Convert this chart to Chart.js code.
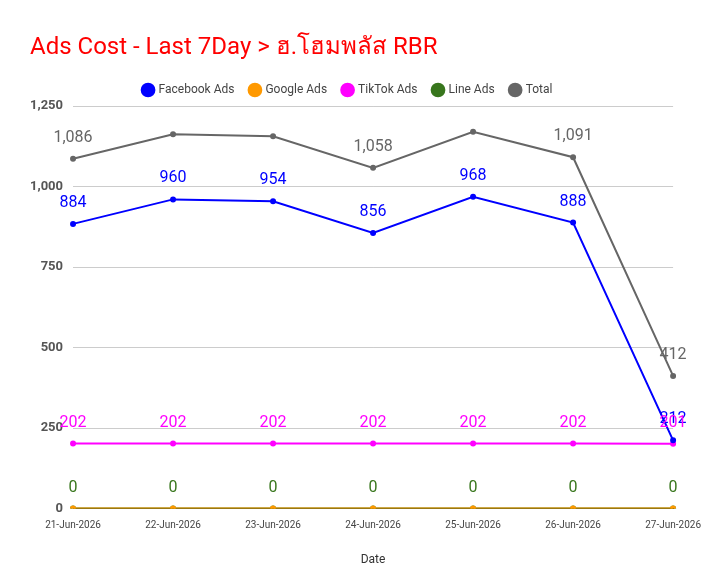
<!DOCTYPE html>
<html>
<head>
<meta charset="utf-8">
<script src="https://cdn.jsdelivr.net/npm/chart.js@4"></script>
<style>
  body { margin: 0; background: #fff; }
</style>
</head>
<body>
<canvas id="c" width="704" height="585"></canvas>
<script>
const dates = ['21-Jun-2026', '22-Jun-2026', '23-Jun-2026', '24-Jun-2026', '25-Jun-2026', '26-Jun-2026', '27-Jun-2026'];
const facebook = [884, 960, 954, 856, 968, 888, 212];
const google = [0, 0, 0, 0, 0, 0, 0];
const tiktok = [202, 202, 202, 202, 202, 202, 201];
const line_ads = [0, 0, 0, 0, 0, 0, 0];
const total = [1086, 1162, 1156, 1058, 1170, 1091, 412];
// which total labels the reference actually shows
const total_label_shown = [true, false, false, true, false, true, true];

const labelPlugin = {
  id: 'pointLabels',
  afterDatasetsDraw(chart) {
    const ctx = chart.ctx;
    ctx.save();
    ctx.font = '16px Roboto';
    ctx.textAlign = 'center';
    ctx.textBaseline = 'alphabetic';
    chart.data.datasets.forEach(function (ds, di) {
      if (!ds.showLabels) return;
      const meta = chart.getDatasetMeta(di);
      meta.data.forEach(function (pt, i) {
        if (ds.labelShown && !ds.labelShown[i]) return;
        ctx.fillStyle = ds.borderColor;
        ctx.fillText(ds.data[i].toLocaleString('en-US'), pt.x, pt.y - 17);
      });
    });
    ctx.restore();
  }
};

const titlePlugin = {
  id: 'leftTitle',
  afterDraw(chart) {
    const ctx = chart.ctx;
    ctx.save();
    ctx.font = '24px Roboto';
    ctx.fillStyle = '#ff0000';
    ctx.textBaseline = 'alphabetic';
    ctx.fillText('Ads Cost - Last 7Day > ฮ.โฮมพลัส RBR', 30, 54);
    ctx.restore();
  }
};

function series(label, data, color, extra) {
  return Object.assign({
    label: label,
    data: data,
    borderColor: color,
    backgroundColor: color,
    borderWidth: 2,
    pointRadius: 2,
    pointHoverRadius: 3,
    tension: 0
  }, extra || {});
}

new Chart(document.getElementById('c'), {
  type: 'line',
  data: {
    labels: dates,
    datasets: [
      series('Facebook Ads', facebook, '#0000ff', { showLabels: true }),
      series('Google Ads', google, '#ff9900'),
      series('TikTok Ads', tiktok, '#ff00ff', { showLabels: true }),
      series('Line Ads', line_ads, '#38761d', { showLabels: true }),
      series('Total', total, '#666666', { showLabels: true, labelShown: total_label_shown })
    ]
  },
  plugins: [labelPlugin, titlePlugin],
  options: {
    responsive: false,
    animation: false,
    devicePixelRatio: 1,
    layout: { padding: { top: 68, left: 20, right: 28, bottom: 14 } },
    plugins: {
      legend: {
        labels: {
          usePointStyle: true,
          pointStyle: 'circle',
          boxWidth: 9,
          boxHeight: 9,
          padding: 16,
          color: '#444',
          font: { family: 'Roboto', size: 12 }
        }
      },
      tooltip: { enabled: false }
    },
    scales: {
      x: {
        grid: { display: false },
        border: { color: '#333' },
        ticks: { color: '#444', font: { family: 'Roboto', size: 10 }, maxRotation: 0 },
        title: { display: true, text: 'Date', color: '#333', font: { family: 'Roboto', size: 12 }, padding: { top: 18 } }
      },
      y: {
        min: 0,
        max: 1250,
        ticks: { stepSize: 250, color: '#555', font: { family: 'Roboto', size: 13, weight: 'bold' }, padding: 10 },
        grid: { color: '#cccccc', drawTicks: false },
        border: { display: false }
      }
    }
  }
});
</script>
</body>
</html>
